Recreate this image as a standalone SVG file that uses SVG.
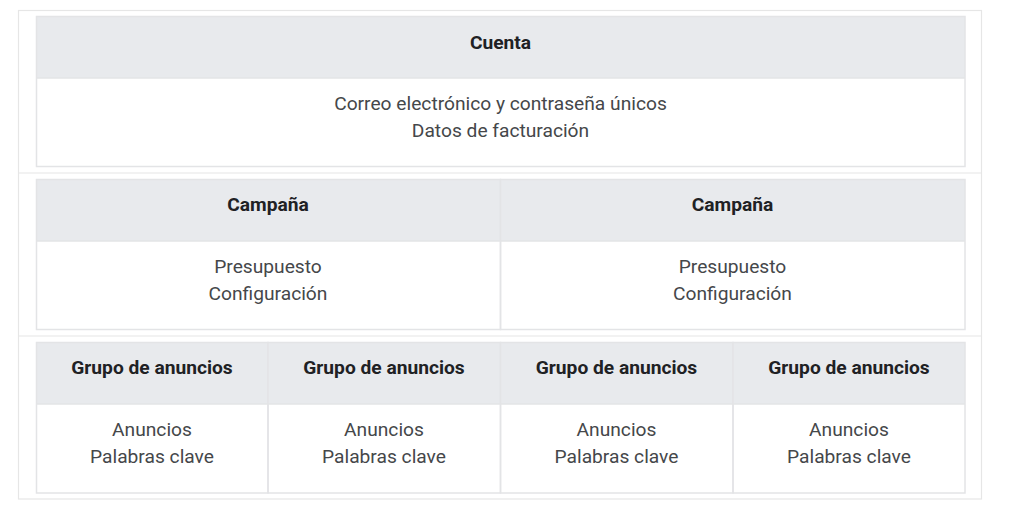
<svg xmlns="http://www.w3.org/2000/svg" width="1024" height="528" viewBox="0 0 1024 528">
<style>
.hd{fill:#e8eaed}
.bx{fill:none;stroke:#e3e4e6;stroke-width:1.5}
.ln{stroke:#e3e4e6;stroke-width:1.5}
.ol{fill:none;stroke:#e6e6e6;stroke-width:1.2}
.h{font-family:Roboto,"Liberation Sans",sans-serif;font-size:19.2px;font-weight:bold;fill:#202124;text-anchor:middle}
.b{font-family:Roboto,"Liberation Sans",sans-serif;font-size:19.2px;fill:#45474a;text-anchor:middle}
</style>
<rect width="1024" height="528" fill="#ffffff"/>
<g id="frame">
<rect class="ol" x="18.5" y="10.5" width="963" height="488.5"/>
<line class="ol" x1="18.5" y1="173" x2="981.5" y2="173"/>
<line class="ol" x1="18.5" y1="336" x2="981.5" y2="336"/>
</g>
<g id="cuenta">
<rect class="hd" x="36" y="16" width="929" height="62"/>
<rect class="bx" x="36.5" y="16.5" width="928.5" height="150"/>
<line class="ln" x1="36" y1="78" x2="965" y2="78"/>
<text class="h" x="500.5" y="49">Cuenta</text>
<text class="b" x="500.5" y="110">Correo electrónico y contraseña únicos</text>
<text class="b" x="500.5" y="137">Datos de facturación</text>
</g>
<g id="campana1">
<rect class="hd" x="36" y="179" width="464" height="62"/>
<rect class="bx" x="36.5" y="179.5" width="464" height="150"/>
<line class="ln" x1="36" y1="241" x2="500" y2="241"/>
<text class="h" x="268" y="211">Campaña</text>
<text class="b" x="268" y="273">Presupuesto</text>
<text class="b" x="268" y="300">Configuración</text>
</g>
<g id="campana2">
<rect class="hd" x="500" y="179" width="465" height="62"/>
<rect class="bx" x="500.5" y="179.5" width="464.5" height="150"/>
<line class="ln" x1="500" y1="241" x2="965" y2="241"/>
<text class="h" x="732.5" y="211">Campaña</text>
<text class="b" x="732.5" y="273">Presupuesto</text>
<text class="b" x="732.5" y="300">Configuración</text>
</g>
<g id="grupo1">
<rect class="hd" x="36" y="342" width="232" height="62"/>
<rect class="bx" x="36.5" y="342.5" width="231.5" height="150.5"/>
<line class="ln" x1="36" y1="404" x2="268" y2="404"/>
<text class="h" x="152" y="374">Grupo de anuncios</text>
<text class="b" x="152" y="436">Anuncios</text>
<text class="b" x="152" y="463">Palabras clave</text>
</g>
<g id="grupo2">
<rect class="hd" x="268" y="342" width="232" height="62"/>
<rect class="bx" x="268" y="342.5" width="232.5" height="150.5"/>
<line class="ln" x1="268" y1="404" x2="500" y2="404"/>
<text class="h" x="384" y="374">Grupo de anuncios</text>
<text class="b" x="384" y="436">Anuncios</text>
<text class="b" x="384" y="463">Palabras clave</text>
</g>
<g id="grupo3">
<rect class="hd" x="500" y="342" width="233" height="62"/>
<rect class="bx" x="500.5" y="342.5" width="232.5" height="150.5"/>
<line class="ln" x1="500" y1="404" x2="733" y2="404"/>
<text class="h" x="616.5" y="374">Grupo de anuncios</text>
<text class="b" x="616.5" y="436">Anuncios</text>
<text class="b" x="616.5" y="463">Palabras clave</text>
</g>
<g id="grupo4">
<rect class="hd" x="733" y="342" width="232" height="62"/>
<rect class="bx" x="733" y="342.5" width="232" height="150.5"/>
<line class="ln" x1="733" y1="404" x2="965" y2="404"/>
<text class="h" x="849" y="374">Grupo de anuncios</text>
<text class="b" x="849" y="436">Anuncios</text>
<text class="b" x="849" y="463">Palabras clave</text>
</g>
<g id="connectors"></g>
</svg>
